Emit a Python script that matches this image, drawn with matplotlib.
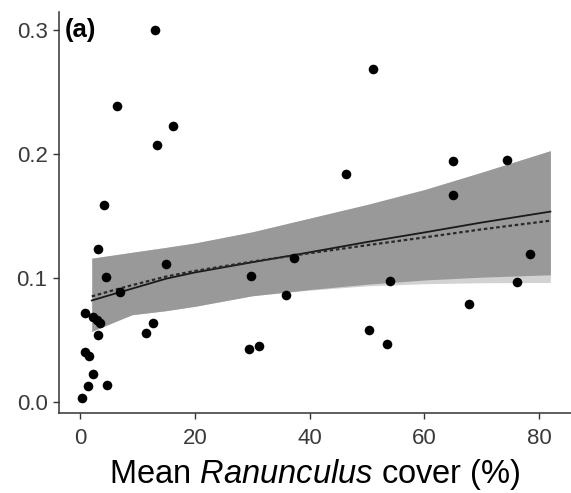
import numpy as np
import matplotlib.pyplot as plt

plt.rcParams['font.family'] = ['Liberation Sans', 'DejaVu Sans']
plt.rcParams['mathtext.fontset'] = 'custom'
plt.rcParams['mathtext.rm'] = 'Liberation Sans'
plt.rcParams['mathtext.it'] = 'Liberation Sans:italic'

# точки: покрытие Ranunculus (%) и отклик
cover = [13.0, 6.4, 16.1, 13.3, 4.2, 3.0, 4.5, 7.0, 14.9, 0.75, 2.2, 2.9, 3.4,
         3.0, 11.4, 12.7, 0.9, 1.5, 2.3, 1.3, 4.6, 0.35,
         51.0, 46.4, 65.1, 74.4, 65.1, 78.4, 29.8, 37.3, 35.8, 54.1, 76.2,
         67.8, 50.4, 53.5, 29.5, 31.2]
response = [0.300, 0.238, 0.222, 0.207, 0.159, 0.123, 0.101, 0.0887, 0.111,
            0.0716, 0.068, 0.0662, 0.0636, 0.054, 0.0555, 0.0636, 0.040,
            0.0367, 0.0228, 0.0126, 0.0139, 0.0032,
            0.268, 0.184, 0.194, 0.195, 0.1668, 0.119, 0.1016, 0.1163, 0.0863,
            0.0976, 0.0962, 0.0788, 0.0576, 0.0467, 0.0426, 0.0447]

# линии модели и доверительная полоса
fit_x = [2, 5, 9, 15, 20, 30, 40, 50, 60, 70, 82]
fit_solid = [0.0817, 0.0858, 0.0912, 0.0993, 0.1043, 0.1125, 0.1205, 0.1288,
             0.1365, 0.1445, 0.1533]
fit_dotted = [0.0850, 0.0890, 0.0940, 0.1010, 0.1055, 0.1130, 0.1198, 0.1262,
              0.1325, 0.1390, 0.1460]
band_upper = [0.1158, 0.1178, 0.1205, 0.1245, 0.128, 0.137, 0.148, 0.159,
              0.171, 0.185, 0.2024]
band_lower = [0.0568, 0.0626, 0.0702, 0.0735, 0.077, 0.0855, 0.0905, 0.0948,
              0.0982, 0.1005, 0.1024]
band_lower_alt = [0.0568, 0.0626, 0.0702, 0.0735, 0.077, 0.0855, 0.0900,
                  0.0935, 0.0952, 0.0960, 0.0962]

fig = plt.figure(figsize=(5.71, 4.93), dpi=100)
ax = fig.add_axes([0.1039, 0.1617, 0.8961, 0.8146])

ax.fill_between(fit_x, band_lower_alt, band_upper, color='#d2d2d2', lw=0)
ax.fill_between(fit_x, band_lower, band_upper, color='#999999', lw=0)
ax.plot(fit_x, fit_solid, color='#1a1a1a', lw=1.3)
ax.plot(fit_x, fit_dotted, color='#2a2a2a', lw=1.6, linestyle=(0, (1.6, 1.2)))
ax.scatter(cover, response, s=48, color='black', zorder=3, linewidths=0)

ax.set_xlim(-3.66, 85.6)
ax.set_ylim(-0.0092, 0.3144)
ax.set_xticks([0, 20, 40, 60, 80])
ax.set_yticks([0.0, 0.1, 0.2, 0.3])
ax.set_yticklabels(['0.0', '0.1', '0.2', '0.3'])

for side in ['top', 'right']:
    ax.spines[side].set_visible(False)
for side in ['left', 'bottom']:
    ax.spines[side].set_color('#333333')
    ax.spines[side].set_linewidth(1.1)
ax.tick_params(axis='both', length=4.5, width=1.0, color='#333333',
               labelsize=16, labelcolor='#3a3a3a', pad=4)
ax.tick_params(axis='x', pad=6)

ax.set_xlabel(r'Mean $\mathit{Ranunculus}$ cover (%)', fontsize=23.5,
              color='black', labelpad=6)
ax.text(0.011, 0.3, '(a)', transform=ax.get_yaxis_transform(),
        fontsize=18.5, fontweight='bold', va='center', ha='left')

fig.savefig('out.png', dpi=100)
